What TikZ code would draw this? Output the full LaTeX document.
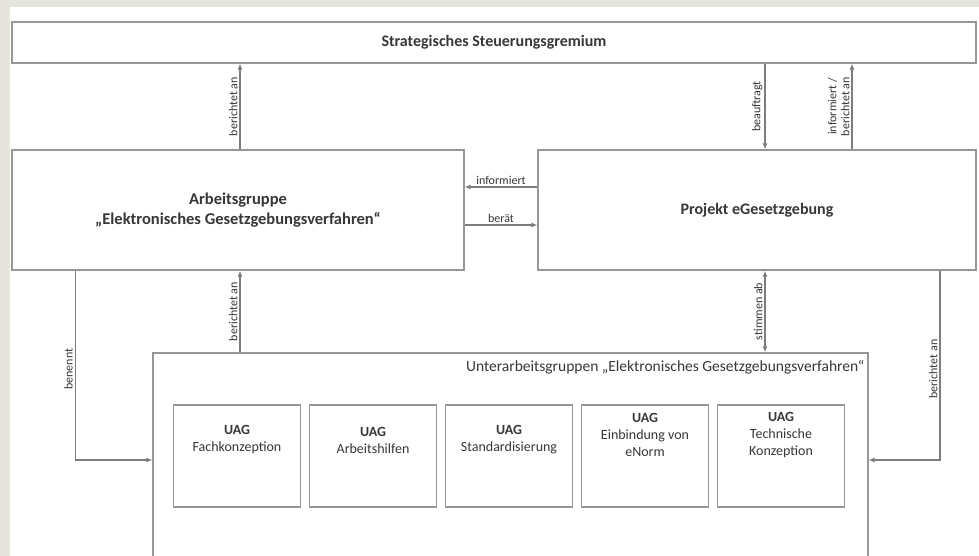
\documentclass[tikz,border=0pt]{standalone}
\usepackage{fontspec}
\setmainfont{Carlito}
\usetikzlibrary{calc,arrows.meta}
\definecolor{bgbeige}{RGB}{230,229,221}
\definecolor{linegray}{RGB}{125,125,125}
\definecolor{boxgray}{RGB}{150,150,150}
\definecolor{txtgray}{RGB}{55,55,55}
\tikzset{
  box/.style={draw=boxgray, line width=1.3pt, fill=white, rectangle, inner sep=2pt, text=txtgray, align=center},
  uagbox/.style={box, minimum width=127pt, minimum height=102pt},
  uagtxt/.style={text=txtgray, align=center, font=\fontsize{14}{17}\selectfont},
  arr/.style={draw=linegray, line width=1.1pt, -{Latex[length=6pt,width=5pt]}},
  darr/.style={draw=linegray, line width=1.1pt, {Latex[length=6pt,width=5pt]}-{Latex[length=6pt,width=5pt]}},
  lbl/.style={font=\fontsize{12}{13}\selectfont, text=txtgray, inner sep=2pt},
  vlbl/.style={lbl, rotate=90, anchor=south, align=center}
}
\begin{document}
\begin{tikzpicture}[x=1pt,y=-1pt]
\useasboundingbox (0,0) rectangle (979,556);
\fill[bgbeige] (0,0) rectangle (979,556);
\fill[white] (10,7) rectangle (979,556);
\clip (0,0) rectangle (979,556);

\node[box, minimum width=964pt, minimum height=41pt, font=\fontsize{16}{19}\selectfont\bfseries] (top) at (494,42.5) {Strategisches Steuerungsgremium};
\node[box, minimum width=452pt, minimum height=120pt, font=\fontsize{16.5}{20}\selectfont\bfseries] (ag) at (238,210) {Arbeitsgruppe\\„Elektronisches Gesetzgebungsverfahren“};
\node[box, minimum width=438pt, minimum height=120pt, font=\fontsize{16}{19}\selectfont\bfseries] (proj) at (757,210) {Projekt eGesetzgebung};
\node[box, minimum width=715pt, minimum height=214pt] (uag) at (510.5,460) {};
\node[lbl, font=\fontsize{15.5}{18}\selectfont, anchor=east] (uagtitle) at ($(uag.north east)+(-2,15)$) {Unterarbeitsgruppen „Elektronisches Gesetzgebungsverfahren“};

\node[uagbox] (u1) at (237,456) {};
\node[uagbox] (u2) at (373,456) {};
\node[uagbox] (u3) at (509,456) {};
\node[uagbox] (u4) at (645,456) {};
\node[uagbox] (u5) at (781,456) {};
\node[uagtxt] (u1t) at ($(u1.center)+(0,-16)$) {\textbf{UAG}\\Fachkonzeption};
\node[uagtxt] (u2t) at ($(u2.center)+(0,-16)$) {\textbf{UAG}\\Arbeitshilfen};
\node[uagtxt] (u3t) at ($(u3.center)+(0,-16)$) {\textbf{UAG}\\Standardisierung};
\node[uagtxt] (u4t) at ($(u4.center)+(0,-21)$) {\textbf{UAG}\\Einbindung von\\eNorm};
\node[uagtxt] (u5t) at ($(u5.center)+(0,-21)$) {\textbf{UAG}\\Technische\\Konzeption};

% AG -> top
\draw[arr] ($(ag.north)+(2,0)$) -- node[vlbl, midway] {berichtet an} ($(ag.north |- top.south)+(2,0)$);
% top -> proj
\draw[arr] ($(proj.north |- top.south)+(8,0)$) -- node[vlbl, midway] {beauftragt} ($(proj.north)+(8,0)$);
% proj -> top
\draw[arr] ($(proj.north)+(95,0)$) -- node[vlbl, midway] {informiert /\\berichtet an} ($(proj.north |- top.south)+(95,0)$);
% proj -> AG informiert
\draw[arr] ($(proj.west)+(0,-23)$) -- node[lbl, midway, above] {informiert} ($(ag.east)+(0,-23)$);
% AG -> proj beraet
\draw[arr] ($(ag.east)+(0,15)$) -- node[lbl, midway, above] {berät} ($(proj.west)+(0,15)$);
% AG -> UAG benennt
\draw[arr] ($(ag.south west)+(64,0)$) -- node[vlbl, pos=0.52] {benennt} ($(ag.south west |- uag.west)+(64,0)$) -- (uag.west);
% UAG -> AG
\draw[arr] ($(ag.south |- uag.north)+(2,0)$) -- node[vlbl, midway] {berichtet an} ($(ag.south)+(2,0)$);
% proj <-> UAG
\draw[darr] ($(proj.south)+(8,0)$) -- node[vlbl, midway] {stimmen ab} ($(proj.south |- uag.north)+(8,0)$);
% proj -> UAG berichtet an
\draw[arr] ($(proj.south)+(183,0)$) -- node[vlbl, pos=0.52] {berichtet an} ($(proj.south |- uag.east)+(183,0)$) -- (uag.east);
\end{tikzpicture}
\end{document}
